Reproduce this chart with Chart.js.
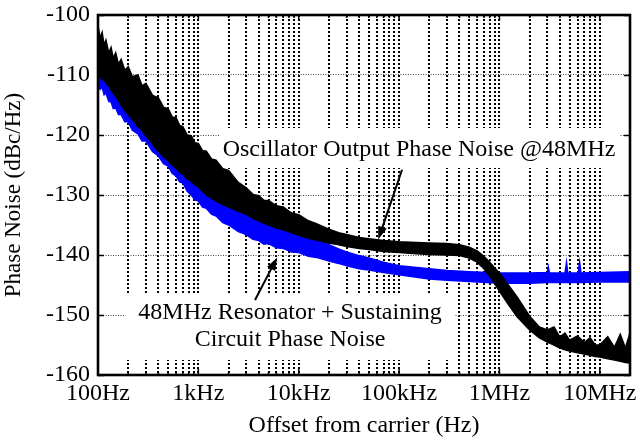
<!DOCTYPE html>
<html>
<head>
<meta charset="utf-8">
<script src="https://cdn.jsdelivr.net/npm/chart.js@4/dist/chart.umd.min.js"></script>
<style>
  html, body { margin: 0; padding: 0; background: #fff; }
  canvas { display: block; }
</style>
</head>
<body>
<canvas id="noiseChart" width="640" height="440"></canvas>
<script>
// Phase noise plot: oscillator output vs resonator + sustaining circuit

// Axis ticks
const xTickValues = [100, 1e3, 1e4, 1e5, 1e6, 1e7];
const xTickLabels = ['100Hz', '1kHz', '10kHz', '100kHz', '1MHz', '10MHz'];
const yTickValues = [-160, -150, -140, -130, -120, -110, -100];

// Offsets shared by both bands below 100kHz
const lowFreq = [100, 105, 110, 115, 120, 128, 135, 142, 150, 160, 170, 185, 200, 220, 250,
  275, 300, 350, 400, 450, 500, 550, 600, 650, 700, 775, 850, 925, 1e3, 1.1e3,
  1.2e3, 1.35e3, 1.5e3, 1.75e3, 2e3, 2.5e3, 3e3, 3.5e3, 4e3, 4.5e3, 5e3, 6e3, 7e3, 8.5e3, 1e4,
  1.25e4, 1.5e4, 2e4, 2.5e4, 3e4, 4e4, 5e4, 7e4];

// Oscillator output (black band: upper / lower edge)
const oscHighFreq = [1e5, 1.5e5, 2e5, 3e5, 4e5, 5e5, 6e5, 7e5, 8e5, 9e5, 1e6, 1.2e6, 1.5e6, 2e6,
  2.5e6, 3e6, 3.5e6, 4e6, 4.5e6, 5e6, 6e6, 7e6, 8e6, 9e6, 1e7, 1.2e7, 1.4e7, 1.6e7, 1.8e7, 2e7];
const oscUpper = [-101.8, -103.8, -102.9, -105, -104.2, -106.3, -105.4, -107.2, -106.3, -108.2,
  -107.4, -109.2, -108.6, -110.3, -110, -111.8, -111.4, -113.4, -113.8, -115.4,
  -115.6, -117, -117.1, -118.4, -118.6, -120, -120.1, -121.3, -121.4, -122.6,
  -122.7, -124, -124.2, -125.6, -125.9, -127.9, -128.8, -129.9, -130.1, -130.9,
  -130.9, -131.8, -132, -133, -133.3, -134.3, -134.8, -135.7, -136.3, -136.6,
  -137.1, -137.3, -137.6,
  -137.8, -137.9, -138, -138.1, -138.3, -138.7, -139.3, -140.2, -141.2, -142.2, -143, -144.8, -147, -150.2,
  -152, -152.5, -152, -153.7, -153, -154.2, -153.5, -154.6, -153.8, -155, -155, -153.6, -155.4, -153.2, -155.5, -153];
const oscLower = [-110.5, -110.3, -110.8, -110.7, -111.3, -111.8, -112.6, -113, -113.6, -114.3,
  -115, -115.9, -116.6, -117.4, -118.6, -119.3, -120.1, -121.5, -122.7, -123.6,
  -124.3, -125, -125.5, -126.2, -126.5, -127.3, -127.7, -128.3, -128.6, -129.4,
  -130, -130.5, -131, -131.6, -132, -132.7, -133.2, -133.9, -134.3, -134.7,
  -135, -135.5, -135.8, -136.3, -136.7, -137.2, -137.5, -138, -138.3, -138.6,
  -138.9, -139.1, -139.4,
  -139.6, -139.8, -139.9, -140, -140.1, -140.5, -141.2, -142.3, -143.5, -144.8, -146, -148, -150.3, -152.5,
  -153.8, -154.5, -155, -155.5, -155.8, -156, -156.3, -156.5, -156.7, -156.9, -157, -157.3, -157.5, -157.7, -157.9, -158];

// Resonator + sustaining circuit (blue band: upper / lower edge)
const resHighFreq = [1e5, 1.5e5, 2e5, 3e5, 5e5, 1e6, 2e6, 3e6, 3.07e6, 3.15e6, 4.5e6, 4.66e6, 4.8e6,
  6.1e6, 6.3e6, 6.5e6, 1e7, 2e7];
const resUpper = [-103, -104.5, -104.5, -106, -105.5, -107.5, -107, -108.5, -108, -109.5,
  -109, -110.5, -110.5, -111.8, -112.3, -113.5, -113.8, -115.3, -116, -117.3,
  -117.8, -119, -119.3, -120.3, -120.7, -121.8, -122.3, -123.2, -123.6, -124.5,
  -125, -126, -126.5, -127.6, -128.2, -129.6, -130.8, -131.7, -132.3, -132.9,
  -133.3, -134, -134.7, -135.4, -136, -136.7, -137.3, -138.3, -139, -139.5,
  -140.1, -140.5, -141.2,
  -141.8, -142.1, -142.3, -142.6, -142.8, -143, -143, -142.9, -142, -143, -143, -141.2, -143,
  -143, -141.2, -143, -142.9, -142.8];
const resLower = [-111.5, -112.4, -112, -113.3, -113, -114.4, -114.5, -115.6, -115.5, -116.6,
  -116.6, -117.8, -117.8, -119.2, -119.8, -121, -121, -122.8, -123.5, -124.8,
  -125.2, -126.4, -126.8, -127.8, -128, -129.4, -130, -130.8, -131, -132,
  -132.2, -133.2, -133.5, -134.6, -135, -136.1, -136.6, -137.4, -137.6, -138.2,
  -138.1, -138.8, -138.9, -139.5, -139.6, -140.2, -140.4, -141, -141.4, -141.8,
  -142.3, -142.5, -142.9,
  -143.3, -143.7, -144, -144.2, -144.4, -144.7, -144.7, -144.6, -144.6, -144.6, -144.6, -144.6, -144.6,
  -144.6, -144.6, -144.6, -144.5, -144.5];

// Annotations
const oscNote = 'Oscillator Output Phase Noise @48MHz';
const resNote = ['48MHz Resonator + Sustaining', 'Circuit Phase Noise'];

const FONT = '"Liberation Serif", "Times New Roman", serif';

const oscFreq = lowFreq.concat(oscHighFreq);
const resFreq = lowFreq.concat(resHighFreq);

function toPoints(freqs, values) {
  return freqs.map((f, i) => ({ x: f, y: values[i] }));
}

// Grid lines at every 1..9 x decade
const xGridValues = [];
xTickValues.forEach(d => {
  for (let m = 1; m <= 9; m++) {
    const v = d * m;
    if (v <= 2e7) xGridValues.push(v);
  }
});
xGridValues.push(2e7);

function drawArrow(ctx, x1, y1, x2, y2) {
  const ang = Math.atan2(y2 - y1, x2 - x1);
  const len = 13, half = 4.5;
  ctx.beginPath();
  ctx.moveTo(x1, y1);
  ctx.lineTo(x2 - Math.cos(ang) * len * 0.8, y2 - Math.sin(ang) * len * 0.8);
  ctx.stroke();
  ctx.beginPath();
  ctx.moveTo(x2, y2);
  ctx.lineTo(x2 - Math.cos(ang) * len - Math.sin(ang) * half, y2 - Math.sin(ang) * len + Math.cos(ang) * half);
  ctx.lineTo(x2 - Math.cos(ang) * len + Math.sin(ang) * half, y2 - Math.sin(ang) * len - Math.cos(ang) * half);
  ctx.closePath();
  ctx.fill();
}

// Frame, inward ticks, label boxes and arrows
const decorations = {
  id: 'decorations',
  beforeDatasetsDraw(chart) {
    const { ctx, scales: { x, y } } = chart;
    ctx.save();
    ctx.fillStyle = '#fff';
    // boxes hiding the grid behind the labels
    const ux = x.getPixelForValue(1.58e5), uy = y.getPixelForValue(-122.5);
    ctx.fillRect(ux - 200, uy - 22, 400, 40);
    const lx = x.getPixelForValue(8.2e3), ly = y.getPixelForValue(-152);
    ctx.fillRect(lx - 165, ly - 33, 330, 66);
    ctx.restore();
  },
  afterDraw(chart) {
    const { ctx, chartArea: a, scales: { x, y } } = chart;
    ctx.save();
    ctx.strokeStyle = '#000';
    ctx.fillStyle = '#000';

    // inward ticks
    ctx.lineWidth = 1.5;
    ctx.beginPath();
    yTickValues.forEach(v => {
      const py = Math.round(y.getPixelForValue(v)) + 0.5;
      ctx.moveTo(a.left, py); ctx.lineTo(a.left + 6, py);
      ctx.moveTo(a.right, py); ctx.lineTo(a.right - 6, py);
    });
    xGridValues.forEach(v => {
      const px = x.getPixelForValue(v);
      const len = xTickValues.includes(v) ? 6 : 3;
      ctx.moveTo(px, a.bottom); ctx.lineTo(px, a.bottom - len);
      ctx.moveTo(px, a.top); ctx.lineTo(px, a.top + len);
    });
    ctx.stroke();

    // frame
    ctx.lineWidth = 2.6;
    ctx.strokeRect(a.left, a.top, a.right - a.left, a.bottom - a.top);

    // labels
    ctx.font = '24px ' + FONT;
    ctx.textAlign = 'center';
    ctx.textBaseline = 'middle';
    ctx.fillText(oscNote, x.getPixelForValue(1.58e5), y.getPixelForValue(-122.5));
    ctx.fillText(resNote[0], x.getPixelForValue(8.2e3), y.getPixelForValue(-149.7));
    ctx.fillText(resNote[1], x.getPixelForValue(8.2e3), y.getPixelForValue(-154.2));

    // arrows
    ctx.lineWidth = 2;
    drawArrow(ctx, x.getPixelForValue(1.07e5), y.getPixelForValue(-125.8),
      x.getPixelForValue(6.2e4), y.getPixelForValue(-137.4));
    drawArrow(ctx, x.getPixelForValue(3.67e3), y.getPixelForValue(-147.5),
      x.getPixelForValue(6.1e3), y.getPixelForValue(-140.4));
    ctx.restore();
  }
};

const ctx = document.getElementById('noiseChart').getContext('2d');

new Chart(ctx, {
  type: 'line',
  data: {
    datasets: [
      {
        label: 'Oscillator upper',
        data: toPoints(oscFreq, oscUpper),
        borderColor: '#000',
        borderWidth: 1.5,
        fill: false
      },
      {
        label: 'Oscillator lower',
        data: toPoints(oscFreq, oscLower),
        borderColor: '#000',
        backgroundColor: '#000',
        borderWidth: 1.5,
        fill: '-1'
      },
      {
        label: 'Resonator upper',
        data: toPoints(resFreq, resUpper),
        borderColor: '#0000ff',
        borderWidth: 1.5,
        fill: false
      },
      {
        label: 'Resonator lower',
        data: toPoints(resFreq, resLower),
        borderColor: '#0000ff',
        backgroundColor: '#0000ff',
        borderWidth: 1.5,
        fill: '-1'
      }
    ]
  },
  options: {
    responsive: false,
    animation: false,
    layout: { padding: { top: 15, right: 10, left: 0, bottom: 0 } },
    elements: { point: { radius: 0 }, line: { tension: 0 } },
    plugins: {
      legend: { display: false },
      tooltip: { enabled: false }
    },
    scales: {
      x: {
        type: 'logarithmic',
        min: 100,
        max: 2e7,
        afterBuildTicks: s => { s.ticks = xGridValues.map(v => ({ value: v })); },
        afterFit: s => { s.height = 65; s.paddingLeft = 0; s.paddingRight = 0; },
        grid: { color: '#000', lineWidth: 2, drawTicks: false },
        border: { display: false, dash: [2, 2] },
        ticks: {
          autoSkip: false,
          maxRotation: 0,
          padding: 4,
          color: '#000',
          font: { family: FONT, size: 24 },
          callback: v => {
            const i = xTickValues.findIndex(t => Math.abs(t - v) / t < 1e-6);
            return i >= 0 ? xTickLabels[i] : '';
          }
        },
        title: {
          display: true,
          text: 'Offset from carrier (Hz)',
          color: '#000',
          font: { family: FONT, size: 24 },
          padding: { top: 0, bottom: 0 }
        }
      },
      y: {
        min: -160,
        max: -100,
        afterBuildTicks: s => { s.ticks = yTickValues.map(v => ({ value: v })); },
        afterFit: s => { s.width = 98; s.paddingTop = 0; s.paddingBottom = 0; },
        grid: { color: '#444', lineWidth: 1, drawTicks: false },
        border: { display: false, dash: [1, 1.5] },
        ticks: {
          padding: 8,
          color: '#000',
          font: { family: FONT, size: 24 }
        },
        title: {
          display: true,
          text: 'Phase Noise (dBc/Hz)',
          color: '#000',
          font: { family: FONT, size: 23 },
          padding: { top: 0, bottom: 2 }
        }
      }
    }
  },
  plugins: [decorations]
});
</script>
</body>
</html>
